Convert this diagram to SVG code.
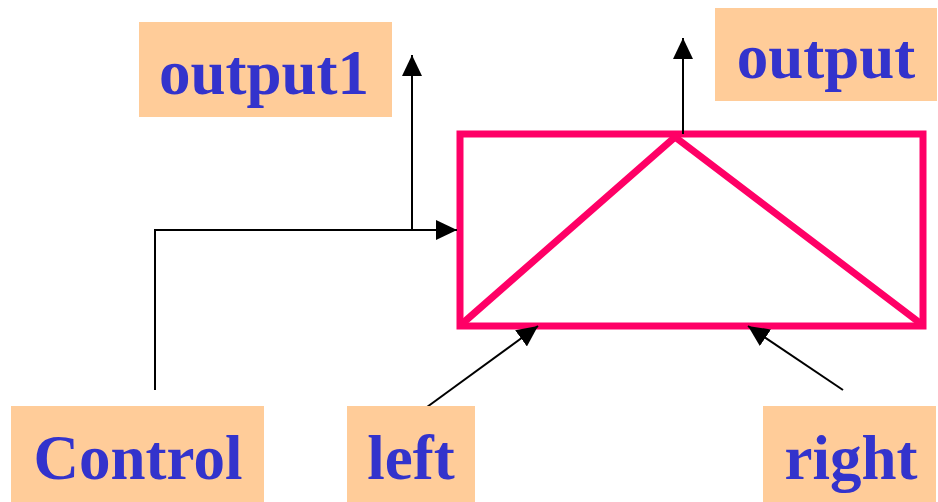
<svg xmlns="http://www.w3.org/2000/svg" width="938" height="502" viewBox="0 0 938 502">
  <style>
    .box { fill: #FFCC99; }
    .lbl { font-family: "Liberation Serif", "Times New Roman", serif; font-weight: bold; font-size: 63px; fill: #3333CC; text-anchor: middle; }
    .wire { stroke: #000; stroke-width: 2; fill: none; }
    .mux { stroke: #FF0066; stroke-width: 7; fill: none; }
  </style>
  <defs>
    <marker id="arrow" markerUnits="userSpaceOnUse" markerWidth="21" markerHeight="20" refX="21" refY="10" orient="auto">
      <path d="M0,0 L21,10 L0,20 z" fill="#000"/>
    </marker>
  </defs>

  <g id="mux">
    <rect class="mux" x="460" y="134" width="463" height="192"/>
    <polyline class="mux" points="463,323 675,137 920,323"/>
  </g>

  <g id="connectors">
    <polyline class="wire" points="155,390 155,230 457,230" marker-end="url(#arrow)"/>
    <line class="wire" x1="412" y1="230" x2="412" y2="55" marker-end="url(#arrow)"/>
    <line class="wire" x1="683" y1="134" x2="683" y2="38" marker-end="url(#arrow)"/>
    <line class="wire" x1="427" y1="407" x2="538" y2="326" marker-end="url(#arrow)"/>
    <line class="wire" x1="843" y1="390" x2="748" y2="326" marker-end="url(#arrow)"/>
  </g>

  <g id="output1">
    <rect class="box" x="139" y="22" width="253" height="95"/>
    <text class="lbl" x="264" y="94">output1</text>
  </g>
  <g id="output">
    <rect class="box" x="715" y="8" width="222" height="93"/>
    <text class="lbl" x="826" y="78">output</text>
  </g>
  <g id="control">
    <rect class="box" x="11" y="406" width="253" height="96"/>
    <text class="lbl" x="138" y="479">Control</text>
  </g>
  <g id="left">
    <rect class="box" x="347" y="406" width="128" height="96"/>
    <text class="lbl" x="411" y="479">left</text>
  </g>
  <g id="right">
    <rect class="box" x="763" y="406" width="173" height="96"/>
    <text class="lbl" x="851" y="479">right</text>
  </g>
</svg>
